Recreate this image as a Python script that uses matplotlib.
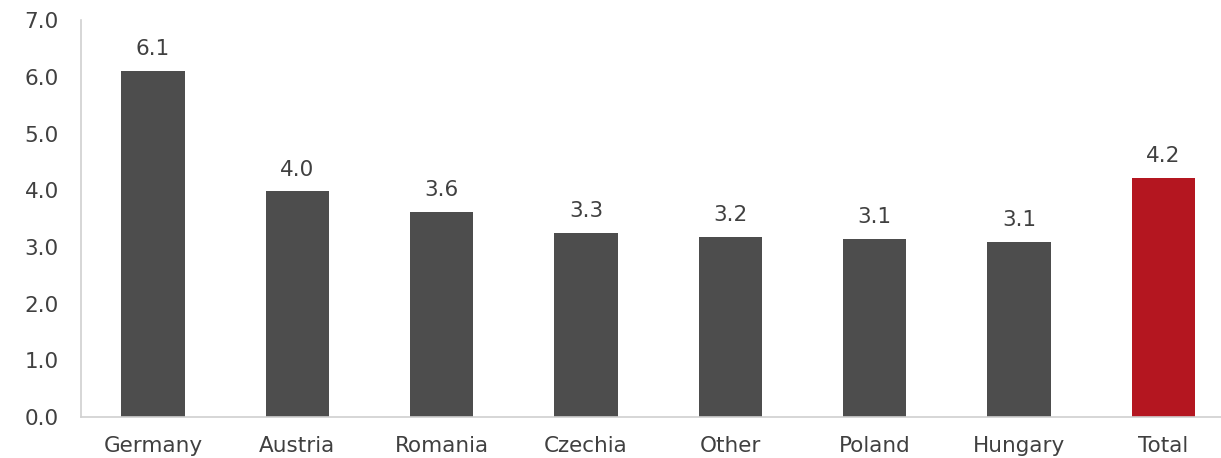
import matplotlib
matplotlib.use("Agg")
import matplotlib.pyplot as plt
import numpy as np

categories = ["Germany", "Austria", "Romania", "Czechia", "Other", "Poland", "Hungary", "Total"]
values = [6.1, 3.98, 3.62, 3.25, 3.17, 3.14, 3.09, 4.22]
labels = ["6.1", "4.0", "3.6", "3.3", "3.2", "3.1", "3.1", "4.2"]

gray = "#4d4d4d"
red = "#b41620"
text_color = "#404040"
fs = 15.5

fig = plt.figure(figsize=(12.21, 4.58), dpi=100)
ax = fig.add_axes([0.0663, 0.0895, 0.9337, 0.8665])

x = np.arange(len(categories))
colors = [gray] * (len(categories) - 1) + [red]
ax.bar(x, values, width=0.44, color=colors, zorder=2)

for xi, v, lab in zip(x, values, labels):
    ax.annotate(lab, (xi, v), xytext=(0, 8.5), textcoords="offset points",
                ha="center", va="bottom", fontsize=fs, color=text_color)

ax.set_xlim(-0.5, 7.4)
ax.set_ylim(0, 7)
ticks = np.arange(0, 7.1, 1.0)
ax.set_yticks(ticks)
ax.set_yticklabels([f"{t:.1f}" for t in ticks])
ax.set_xticks(x)
ax.set_xticklabels(categories)

for side in ["top", "right"]:
    ax.spines[side].set_visible(False)
for side in ["left", "bottom"]:
    ax.spines[side].set_color("#d0d0d0")
    ax.spines[side].set_linewidth(1.2)

ax.tick_params(axis="both", length=0, labelsize=fs, colors=text_color)
ax.tick_params(axis="y", pad=16)
ax.tick_params(axis="x", pad=14)

fig.savefig("out.png", dpi=100)
